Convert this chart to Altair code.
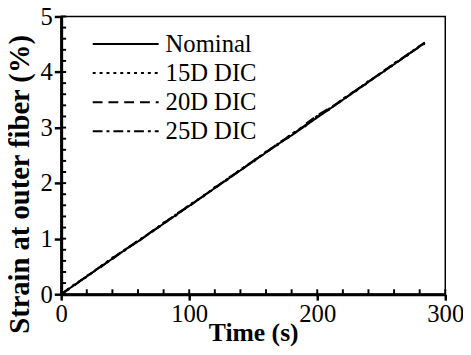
import altair as alt
import pandas as pd

time_s = [0, 10, 20, 30, 40, 50, 60, 70, 80, 90, 100, 110, 120, 130, 140, 150,
          160, 170, 180, 190, 200, 210, 220, 230, 240, 250, 260, 270, 280, 284]
nominal = [0, 0.16, 0.32, 0.48, 0.64, 0.80, 0.95, 1.11, 1.27, 1.43, 1.59, 1.75, 1.91, 2.07, 2.23,
           2.39, 2.55, 2.71, 2.86, 3.02, 3.18, 3.34, 3.50, 3.66, 3.82, 3.98, 4.14, 4.30, 4.46, 4.52]
dic15 = [0, 0.17, 0.31, 0.49, 0.66, 0.79, 0.97, 1.10, 1.29, 1.42, 1.61, 1.74, 1.93, 2.06, 2.25,
         2.38, 2.57, 2.70, 2.89, 3.01, 3.21, 3.33, 3.52, 3.65, 3.84, 3.97, 4.16, 4.29, 4.47, 4.53]
dic20 = [0, 0.15, 0.33, 0.47, 0.65, 0.81, 0.94, 1.12, 1.26, 1.45, 1.58, 1.76, 1.90, 2.09, 2.22,
         2.41, 2.54, 2.73, 2.85, 3.05, 3.22, 3.36, 3.49, 3.68, 3.81, 4.00, 4.13, 4.31, 4.45, 4.51]
dic25 = [0, 0.17, 0.32, 0.49, 0.63, 0.81, 0.96, 1.12, 1.28, 1.44, 1.60, 1.75, 1.92, 2.08, 2.24,
         2.40, 2.56, 2.72, 2.88, 3.03, 3.20, 3.35, 3.51, 3.67, 3.83, 3.99, 4.15, 4.31, 4.47, 4.53]

series_names = ["Nominal", "15D DIC", "20D DIC", "25D DIC"]
series_dash = [[1, 0], [3, 4], [10, 6], [10, 4, 3, 4]]

x_major = [0, 100, 200, 300]
x_minor = list(range(0, 301, 20))
y_major = [0, 1, 2, 3, 4, 5]
y_minor = [0, 0.2, 0.4, 0.6, 0.8, 1, 1.2, 1.4, 1.6, 1.8, 2, 2.2, 2.4, 2.6, 2.8, 3,
           3.2, 3.4, 3.6, 3.8, 4, 4.2, 4.4, 4.6, 4.8, 5]

W, H = 390, 282

rows = []
for name, vals in zip(series_names, [nominal, dic15, dic20, dic25]):
    for t, v in zip(time_s, vals):
        rows.append({"Time": t, "Strain": v, "Series": name})
df = pd.DataFrame(rows)

TITLE_FONT = "Times New Roman"
LABEL_FONT = "Times New Roman, Liberation Serif, serif"
xscale = alt.Scale(domain=[0, 300], nice=False, zero=False)
yscale = alt.Scale(domain=[0, 5], nice=False, zero=False)

lines = alt.Chart(df).mark_line(color="black", strokeWidth=2, clip=True).encode(
    x=alt.X("Time:Q", scale=xscale,
            axis=alt.Axis(values=x_major, format="d", title="Time (s)",
                          ticks=True, tickSize=6, tickWidth=2.5, tickColor="black",
                          domainWidth=3, domainColor="black",
                          labelFont=LABEL_FONT, labelFontSize=25, labelColor="black",
                          labelBaseline="alphabetic", labelPadding=22, labelFlush=False,
                          labelOverlap=False,
                          titleFont=TITLE_FONT, titleFontSize=26, titleFontWeight="bold",
                          titleColor="black", titleBaseline="alphabetic", titleY=47,
                          grid=False)),
    y=alt.Y("Strain:Q", scale=yscale,
            axis=alt.Axis(values=y_major, format="d", title="Strain at outer fiber (%)",
                          ticks=True, tickSize=7, tickWidth=2.5, tickColor="black",
                          domainWidth=3, domainColor="black",
                          labelFont=LABEL_FONT, labelFontSize=25, labelColor="black",
                          labelPadding=2, labelFlush=False, labelOverlap=False,
                          titleFont=TITLE_FONT, titleFontSize=29, titleFontWeight="bold",
                          titleColor="black", titleBaseline="alphabetic",
                          titleX=-33, titleY=170, grid=False)),
    strokeDash=alt.StrokeDash("Series:N",
                              scale=alt.Scale(domain=series_names, range=series_dash),
                              sort=series_names,
                              legend=alt.Legend(title=None, orient="none",
                                                legendX=31, legendY=15.5,
                                                symbolType="stroke", symbolSize=4489,
                                                symbolStrokeWidth=2, symbolStrokeColor="black",
                                                clipHeight=25,
                                                labelFont=LABEL_FONT, labelFontSize=25,
                                                labelColor="black", labelOffset=6,
                                                rowPadding=3.5, padding=0)),
)

xticks = alt.Chart(pd.DataFrame({"Time": x_minor})).mark_rule(color="black", strokeWidth=2).encode(
    x=alt.X("Time:Q", scale=xscale),
    y=alt.value(H - 5), y2=alt.value(H),
)
yticks = alt.Chart(pd.DataFrame({"Strain": y_minor})).mark_rule(color="black", strokeWidth=2).encode(
    y=alt.Y("Strain:Q", scale=yscale),
    x=alt.value(0), x2=alt.value(5),
)

chart = alt.layer(lines, xticks, yticks).properties(
    width=W, height=H,
    autosize=alt.AutoSizeParams(type="none"),
    padding={"left": 54, "top": 6, "right": 18, "bottom": 51},
    background="white",
).configure_view(stroke="black", strokeWidth=1.5)

chart.save("out.html", embed_options={"renderer": "svg", "actions": False})
